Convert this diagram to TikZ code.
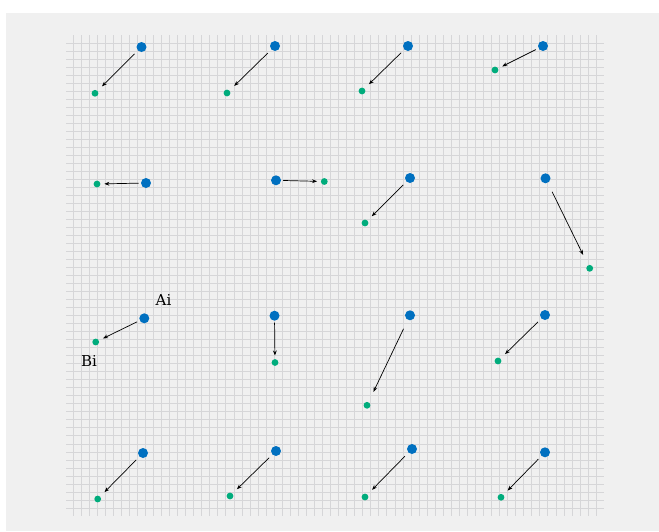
\documentclass[tikz,border=0pt]{standalone}
\usepackage{fontspec}
\usepackage{tikz}
\usetikzlibrary{arrows.meta,calc}
\newfontfamily\lblfont{DejaVu Serif}
\definecolor{ptblue}{RGB}{0,112,192}
\definecolor{ptgreen}{RGB}{0,172,124}
\definecolor{bggray}{RGB}{240,240,240}
\definecolor{gridgray}{RGB}{214,214,216}

\begin{document}
\begin{tikzpicture}[x=1pt,y=-1pt,
    apt/.style={circle,fill=ptblue,inner sep=0pt,minimum size=10pt},
    bpt/.style={circle,fill=ptgreen,inner sep=0pt,minimum size=6.8pt},
    move/.style={-{Stealth[length=5pt,width=3.8pt]},line width=0.7pt},
    lbl/.style={inner sep=0pt,anchor=base west,font=\lblfont\fontsize{15}{17}\selectfont}]
  \useasboundingbox (0,0) rectangle (659,531);
  \fill[bggray] (6,13) rectangle (659,531);
  % grid
  \foreach \k in {0,...,58}
    \draw[gridgray,line width=1pt] (66,43+8.02*\k) -- (604,43+8.02*\k);
  \foreach \k in {0,...,65}
    \draw[gridgray,line width=1pt] (73+8.05*\k,35) -- (73+8.05*\k,516);
  % points A_i -> B_i
  \foreach \i/\ax/\ay/\bx/\by in {
      1/141.5/47/95/93.3, 2/275/46/227/93, 3/408/46/362/91, 4/543/46/495/70,
      5/146/183/97/184, 6/276/180.3/324.3/181.5, 7/410/178/365/223, 8/545.5/178.3/589.7/268.3,
      9/144.3/318.3/95.7/342, 10/274.5/315.7/275/362.5, 11/410/315.3/367/405.3, 12/545/315/498/361,
      13/143/453/97.7/499, 14/276/451/230/496, 15/412/449/365/497, 16/545/452.3/501/497.3}{
    \node[apt] (A\i) at (\ax,\ay) {};
    \node[bpt] (B\i) at (\bx,\by) {};
    \draw[move] ($(A\i)!0.15!(B\i)$) -- ($(A\i)!0.85!(B\i)$);
  }
  \node[lbl] (lblA) at (155.5,305.7) {Ai};
  \node[lbl] (lblB) at (81,366.3) {Bi};
\end{tikzpicture}
\end{document}
